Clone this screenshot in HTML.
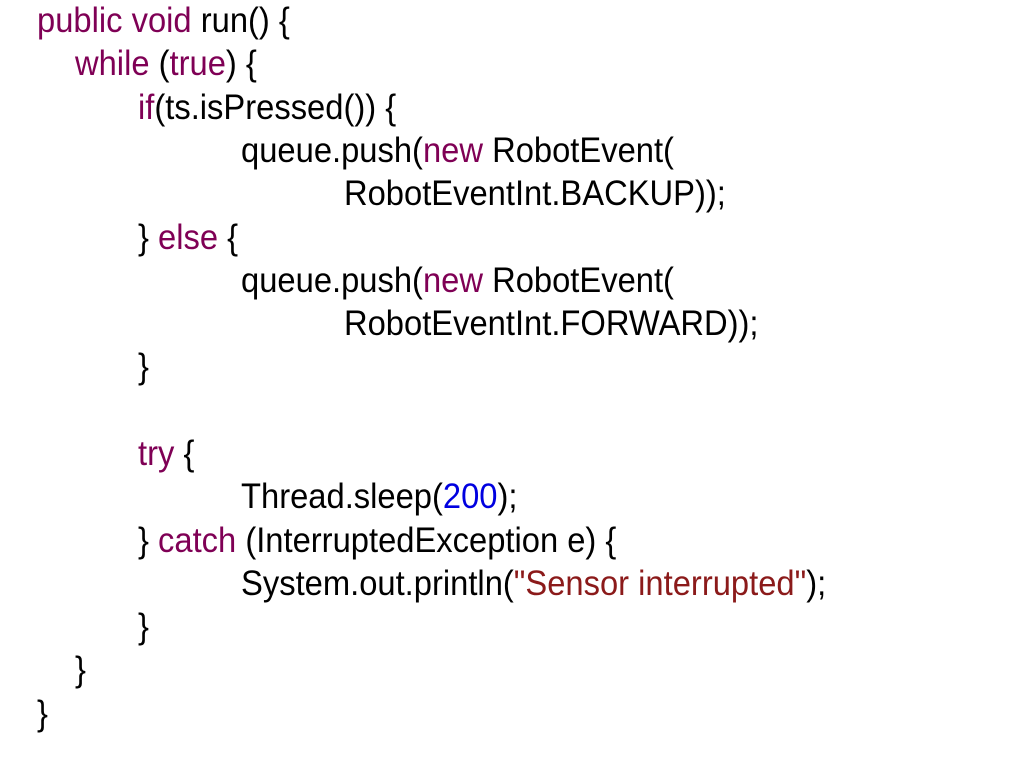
<!DOCTYPE html>
<html><head><meta charset="utf-8"><style>
html,body{margin:0;padding:0;background:#fff;width:1024px;height:768px;overflow:hidden}
svg{display:block}
text{font-family:"Liberation Sans",Arial,sans-serif;font-size:35px;fill:#000}
.k{fill:#7f0055}.n{fill:#0000e0}.s{fill:#8b1a1a}
</style></head><body>
<svg width="1024" height="768" xmlns="http://www.w3.org/2000/svg">
<g transform="scale(0.935,1)">
<text x="39.6" y="32"><tspan class="k">public void</tspan> run() {</text>
<text x="80.2" y="75"><tspan class="k">while</tspan> (<tspan class="k">true</tspan>) {</text>
<text x="147.6" y="119"><tspan class="k">if</tspan>(ts.isPressed()) {</text>
<text x="257.8" y="162">queue.push(<tspan class="k">new</tspan> RobotEvent(</text>
<text x="367.9" y="205">RobotEventInt.BACKUP));</text>
<text x="147.6" y="249">} <tspan class="k">else</tspan> {</text>
<text x="257.8" y="292">queue.push(<tspan class="k">new</tspan> RobotEvent(</text>
<text x="367.9" y="335">RobotEventInt.FORWARD));</text>
<text x="147.6" y="378">}</text>
<text x="147.6" y="465"><tspan class="k">try</tspan> {</text>
<text x="257.8" y="508">Thread.sleep(<tspan class="n">200</tspan>);</text>
<text x="147.6" y="552">} <tspan class="k">catch</tspan> (InterruptedException e) {</text>
<text x="257.8" y="595">System.out.println(<tspan class="s">"Sensor interrupted"</tspan>);</text>
<text x="147.6" y="638">}</text>
<text x="80.2" y="681">}</text>
<text x="39.6" y="725">}</text>
</g>
</svg>
</body></html>
